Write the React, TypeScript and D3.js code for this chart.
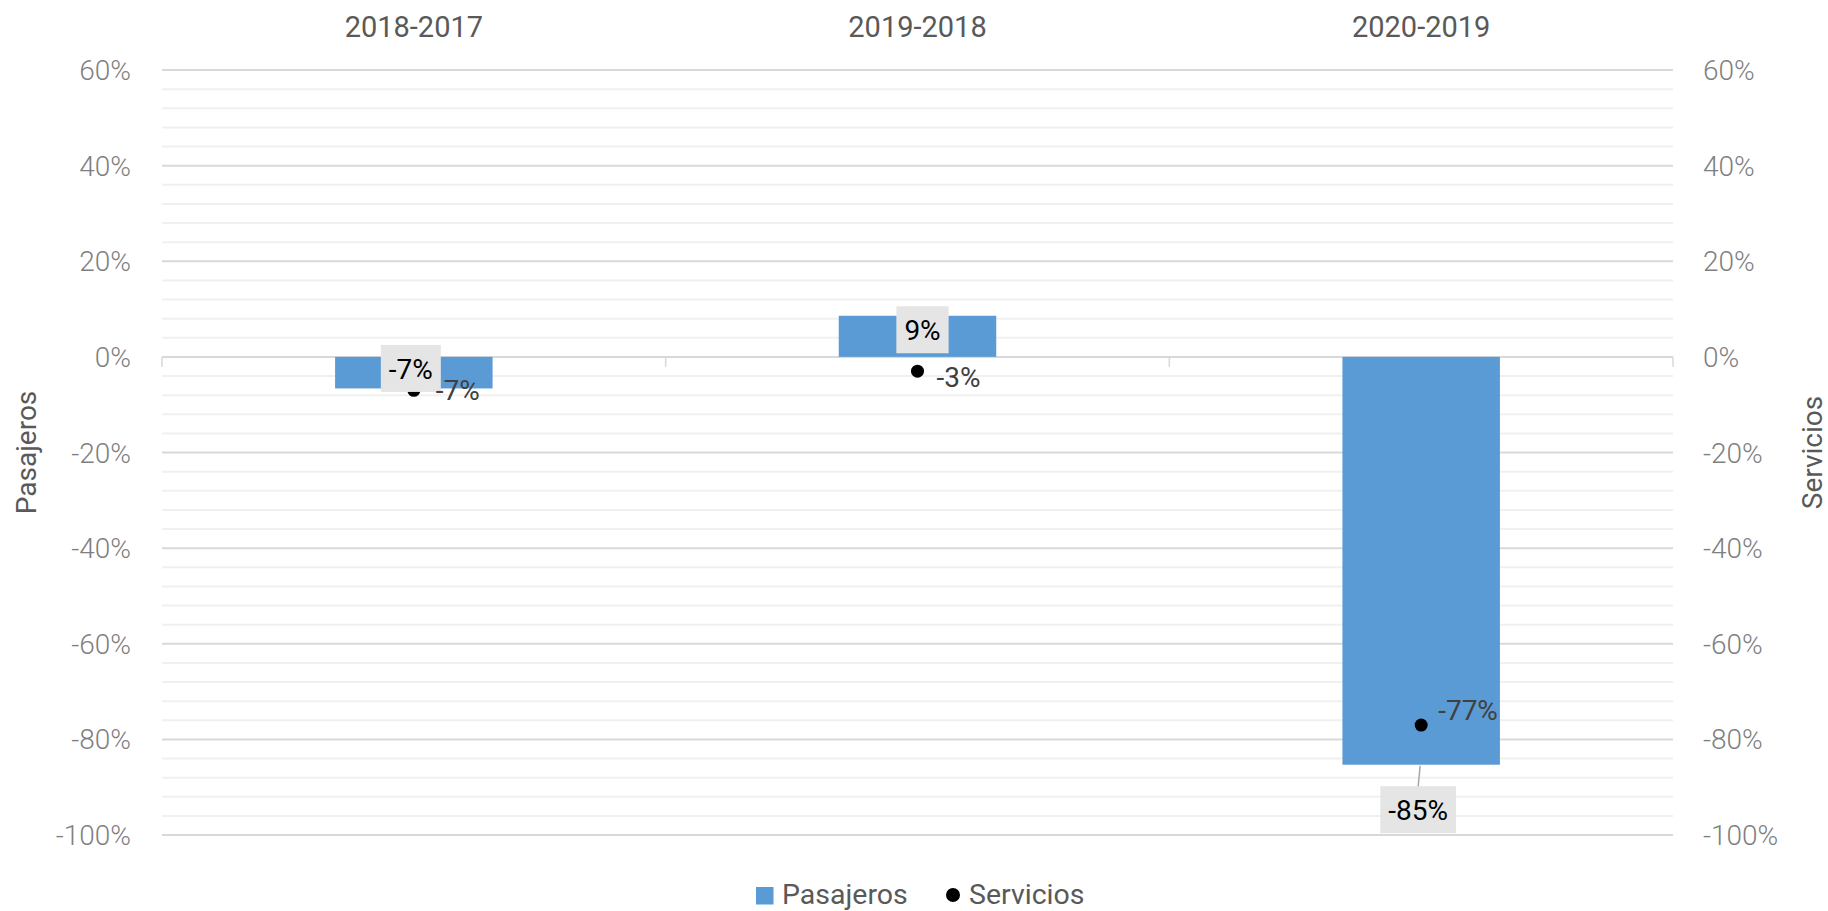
import React, { useEffect, useRef } from 'react';
import * as d3 from 'd3';

const categories = ['2018-2017', '2019-2018', '2020-2019'];
const pasajeros = [-6.6, 8.6, -85.3];
const servicios = [-7.0, -3.0, -77.0];
const yTicks = [60, 40, 20, 0, -20, -40, -60, -80, -100];

// label nudges (px) relative to the bar end / dot
const pasajerosLabelNudge = [[-3, -20], [5, 14], [-3, 45]];
const servicioLabelNudge = [[22, 0], [19, 6], [17, -15]];

const W = 1828;
const H = 911;

const App = () => {
    const svgRef = useRef<SVGSVGElement | null>(null);

    useEffect(() => {
        if (!svgRef.current) return;
        const svg = d3.select(svgRef.current);
        svg.selectAll('*').remove();

        const margin = { top: 70, right: 155, bottom: 76, left: 162 };
        const font = 'Roboto, sans-serif';

        const x = d3.scaleBand<string>()
            .domain(categories)
            .range([margin.left, W - margin.right])
            .padding(0);

        const y = d3.scaleLinear()
            .domain([-100, 60])
            .range([H - margin.bottom, margin.top]);

        const x0 = margin.left;
        const x1 = W - margin.right;

        // minor gridlines
        svg.append('g')
            .selectAll('line')
            .data(d3.range(-100, 61, 4).filter(v => v % 20 !== 0))
            .join('line')
            .attr('x1', x0).attr('x2', x1)
            .attr('y1', d => y(d)).attr('y2', d => y(d))
            .attr('stroke', '#f0f0f0')
            .attr('stroke-width', 2);

        // major gridlines
        svg.append('g')
            .selectAll('line')
            .data(yTicks)
            .join('line')
            .attr('x1', x0).attr('x2', x1)
            .attr('y1', d => y(d)).attr('y2', d => y(d))
            .attr('stroke', '#d9d9d9')
            .attr('stroke-width', 2);

        // category tick marks on the zero line
        const bounds = categories.map(c => x(c) as number).concat([x1]);
        svg.append('g')
            .selectAll('line')
            .data(bounds)
            .join('line')
            .attr('x1', d => d).attr('x2', d => d)
            .attr('y1', y(0)).attr('y2', y(0) + 10)
            .attr('stroke', '#d9d9d9')
            .attr('stroke-width', 1.5);

        // y tick labels, both sides
        const tickStyle = (sel: any) => sel
            .style('font-family', font)
            .style('font-size', '28px')
            .style('font-weight', '300')
            .attr('fill', '#7f7f7f');

        svg.append('g')
            .selectAll('text')
            .data(yTicks)
            .join('text')
            .attr('x', x0 - 31)
            .attr('y', d => y(d))
            .attr('dy', '0.36em')
            .attr('text-anchor', 'end')
            .text(d => d + '%')
            .call(tickStyle);

        svg.append('g')
            .selectAll('text')
            .data(yTicks)
            .join('text')
            .attr('x', x1 + 30)
            .attr('y', d => y(d))
            .attr('dy', '0.36em')
            .attr('text-anchor', 'start')
            .text(d => d + '%')
            .call(tickStyle);

        // category labels on top
        svg.append('g')
            .selectAll('text')
            .data(categories)
            .join('text')
            .attr('x', d => (x(d) as number) + x.bandwidth() / 2)
            .attr('y', 37)
            .attr('text-anchor', 'middle')
            .text(d => d)
            .attr('fill', '#595959')
            .style('font-family', font)
            .style('font-size', '29px');

        // axis titles
        const midY = (y(60) + y(-100)) / 2;
        [['Pasajeros', 26], ['Servicios', 1812]].forEach(([t, cx]) => {
            svg.append('text')
                .attr('transform', `translate(${cx},${midY}) rotate(-90)`)
                .attr('text-anchor', 'middle')
                .attr('dy', '0.36em')
                .text(t as string)
                .attr('fill', '#595959')
                .style('font-family', font)
                .style('font-size', '28px');
        });

        // bars
        const barW = x.bandwidth() * 0.3127;
        const cx = (i: number) => (x(categories[i]) as number) + x.bandwidth() / 2;
        svg.append('g')
            .selectAll('rect')
            .data(pasajeros)
            .join('rect')
            .attr('x', (d, i) => cx(i) - barW / 2)
            .attr('width', barW)
            .attr('y', d => y(Math.max(0, d)))
            .attr('height', d => Math.abs(y(d) - y(0)))
            .attr('fill', '#5b9bd5');

        // dots
        svg.append('g')
            .selectAll('circle')
            .data(servicios)
            .join('circle')
            .attr('cx', (d, i) => cx(i))
            .attr('cy', d => y(d))
            .attr('r', 6.5)
            .attr('fill', '#000');

        // pasajeros labels (boxed)
        pasajeros.forEach((v, i) => {
            const lx = cx(i) + pasajerosLabelNudge[i][0];
            const ly = y(v) + pasajerosLabelNudge[i][1];
            const g = svg.append('g');
            const txt = g.append('text')
                .attr('x', lx)
                .attr('y', ly)
                .attr('dy', '0.36em')
                .attr('text-anchor', 'middle')
                .text(Math.round(v) + '%')
                .attr('fill', '#000')
                .style('font-family', font)
                .style('font-size', '28px');
            const bb = (txt.node() as SVGTextElement).getBBox();
            const bw = bb.width + 16;
            const bh = 47;
            g.insert('rect', 'text')
                .attr('x', lx - bw / 2)
                .attr('y', ly - bh / 2)
                .attr('width', bw)
                .attr('height', bh)
                .attr('fill', '#e5e5e5');
            // leader line when the label sits away from the bar
            if (ly - bh / 2 > y(v) + 10) {
                g.append('line')
                    .attr('x1', cx(i) - 1).attr('y1', y(v) + 1)
                    .attr('x2', lx).attr('y2', ly - bh / 2)
                    .attr('stroke', '#a6a6a6')
                    .attr('stroke-width', 1.5);
            }
        });

        // servicios labels
        svg.append('g')
            .selectAll('text')
            .data(servicios)
            .join('text')
            .attr('x', (d, i) => cx(i) + servicioLabelNudge[i][0])
            .attr('y', (d, i) => y(d) + servicioLabelNudge[i][1])
            .attr('dy', '0.36em')
            .text(d => Math.round(d) + '%')
            .attr('fill', '#404040')
            .style('font-family', font)
            .style('font-size', '28px');

        // legend
        const legend = svg.append('g').attr('transform', `translate(756, 894)`);
        legend.append('rect')
            .attr('x', 0).attr('y', -7)
            .attr('width', 17.5).attr('height', 17.5)
            .attr('fill', '#5b9bd5');
        legend.append('text')
            .attr('x', 26).attr('y', 0).attr('dy', '0.36em')
            .text('Pasajeros')
            .attr('fill', '#595959')
            .style('font-family', font)
            .style('font-size', '28.5px');
        legend.append('circle')
            .attr('cx', 197).attr('cy', 1)
            .attr('r', 7)
            .attr('fill', '#000');
        legend.append('text')
            .attr('x', 213).attr('y', 0).attr('dy', '0.36em')
            .text('Servicios')
            .attr('fill', '#595959')
            .style('font-family', font)
            .style('font-size', '28.5px');
    }, []);

    return (
        <svg
            ref={svgRef}
            width={W}
            height={H}
            style={{ position: 'absolute', left: 0, top: 0, background: '#fff' }}
        />
    );
};

export default App;
